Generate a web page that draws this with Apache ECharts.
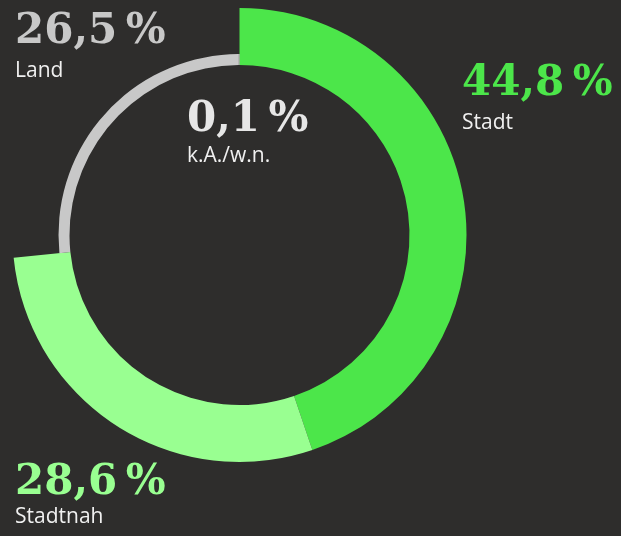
<!DOCTYPE html>
<html>
<head>
<meta charset="utf-8">
<script src="https://cdn.jsdelivr.net/npm/echarts@6/dist/echarts.min.js"></script>
<style>
  html, body { margin: 0; padding: 0; background: #2e2d2c; }
  #main { width: 621px; height: 536px; }
</style>
</head>
<body>
<div id="main"></div>
<script>
// Daten
var names = ["Stadt", "Stadtnah", "Land", "k.A./w.n."];
var values = [44.8, 28.6, 26.5, 0.1];
var colors = ["#4ce64a", "#99ff91", "#c8c8c8", "#e6e6e6"];
// welche Segmente als dicker Ring gezeichnet werden
var thick = [true, true, false, false];

// Label-Positionen (Zahl + Name)
var labelPos = [
  { x: 462, numY: 84, nameY: 123 },
  { x: 15, numY: 483, nameY: 517 },
  { x: 15, numY: 32, nameY: 71 },
  { x: 187, numY: 120, nameY: 156 }
];
var numColors = ["#4ce64a", "#99ff91", "#c8c8c8", "#e6e6e6"];

function fmt(v) {
  return v.toFixed(1).replace(".", ",") + "\u2009%";
}

var myChart = echarts.init(document.getElementById("main"));

var thickData = [], thinData = [];
for (var i = 0; i < names.length; i++) {
  thickData.push({
    name: names[i],
    value: values[i],
    itemStyle: { color: thick[i] ? colors[i] : "rgba(0,0,0,0)" }
  });
  thinData.push({
    name: names[i],
    value: values[i],
    itemStyle: { color: thick[i] ? "rgba(0,0,0,0)" : colors[i] }
  });
}

var graphics = [];
for (var j = 0; j < names.length; j++) {
  graphics.push({
    type: "text",
    style: {
      x: labelPos[j].x,
      y: labelPos[j].numY,
      text: fmt(values[j]),
      font: "bold 42px 'DejaVu Serif'",
      fill: numColors[j],
      verticalAlign: "middle"
    }
  });
  graphics.push({
    type: "text",
    style: {
      x: labelPos[j].x,
      y: labelPos[j].nameY,
      text: names[j],
      font: "21px 'Open Sans'",
      fill: "#f0f0f0",
      verticalAlign: "middle"
    }
  });
}

var option = {
  backgroundColor: "#2e2d2c",
  animation: false,
  series: [
    {
      type: "pie",
      center: [239.5, 235],
      radius: [170, 227],
      startAngle: 90,
      clockwise: true,
      silent: true,
      label: { show: false },
      labelLine: { show: false },
      itemStyle: { borderWidth: 0 },
      data: thickData
    },
    {
      type: "pie",
      center: [239.5, 235],
      radius: [170, 181],
      startAngle: 90,
      clockwise: true,
      silent: true,
      label: { show: false },
      labelLine: { show: false },
      itemStyle: { borderWidth: 0 },
      data: thinData
    }
  ],
  graphic: graphics
};
myChart.setOption(option);
</script>
</body>
</html>
